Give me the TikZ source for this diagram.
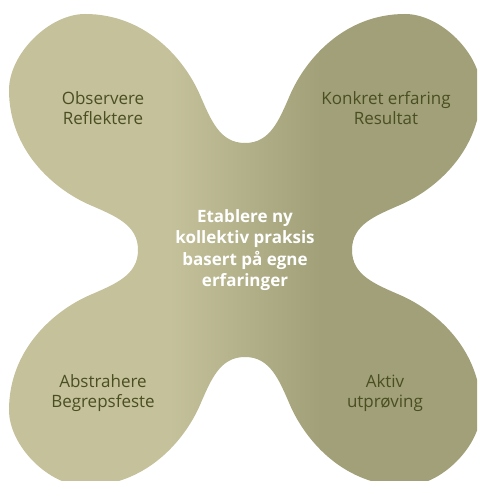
\documentclass[tikz,border=0pt]{standalone}
\usepackage{fontspec}
\setmainfont{Open Sans}
\definecolor{khakilight}{HTML}{C4C19B}
\definecolor{khakidark}{HTML}{A1A078}
\definecolor{labeltext}{HTML}{4A4F22}

\begin{document}
\begin{tikzpicture}[x=1pt,y=1pt,
  stage/.style={text=labeltext, align=center, inner sep=0pt,
    font=\fontsize{17}{20.5}\selectfont},
  core/.style={text=white, align=center, inner sep=0pt,
    font=\bfseries\fontsize{17}{21.5}\selectfont}]
\useasboundingbox (0,0) rectangle (477,481);

% four round lobes joined by necks with rounded notches;
% flat light colour on the left, flat dark on the right, blended between
\begin{scope}
  \clip (0,0) rectangle (477,481);
  \begin{scope}[shift={(245,231)}]
    \clip (0,107)
      .. controls (25,107) and (33.8,129.2) .. (45,155)
      .. controls (61,191.8) and (100,236) .. (160,236)
      .. controls (196,236) and (236,196) .. (236,160)
      .. controls (236,100) and (191.8,61) .. (155,45)
      .. controls (129.2,33.8) and (107,25) .. (107,0)
      .. controls (107,-25) and (129.2,-33.8) .. (155,-45)
      .. controls (191.8,-61) and (236,-100) .. (236,-160)
      .. controls (236,-196) and (196,-236) .. (160,-236)
      .. controls (100,-236) and (61,-191.8) .. (45,-155)
      .. controls (33.8,-129.2) and (25,-107) .. (0,-107)
      .. controls (-25,-107) and (-33.8,-129.2) .. (-45,-155)
      .. controls (-61,-191.8) and (-100,-236) .. (-160,-236)
      .. controls (-196,-236) and (-236,-196) .. (-236,-160)
      .. controls (-236,-100) and (-191.8,-61) .. (-155,-45)
      .. controls (-129.2,-33.8) and (-107,-25) .. (-107,0)
      .. controls (-107,25) and (-129.2,33.8) .. (-155,45)
      .. controls (-191.8,61) and (-236,100) .. (-236,160)
      .. controls (-236,196) and (-196,236) .. (-160,236)
      .. controls (-100,236) and (-61,191.8) .. (-45,155)
      .. controls (-33.8,129.2) and (-25,107) .. (0,107) -- cycle;
    \fill[khakilight] (-260,-260) rectangle (-75,260);
    \shade[left color=khakilight, right color=khakidark] (-75.5,-260) rectangle (75.5,260);
    \fill[khakidark] (75,-260) rectangle (260,260);
  \end{scope}
\end{scope}

\node[stage] (observe)  at (103,373) {Observere\\Reflektere};
\node[stage] (concrete) at (386,373) {Konkret erfaring\\Resultat};
\node[stage] (abstract) at (103,88)  {Abstrahere\\Begrepsfeste};
\node[stage] (active)   at (385,88)  {Aktiv\\utprøving};
\node[core]  (practice) at (245,231)
  {Etablere ny\\kollektiv praksis\\basert på egne\\erfaringer};
\end{tikzpicture}
\end{document}
